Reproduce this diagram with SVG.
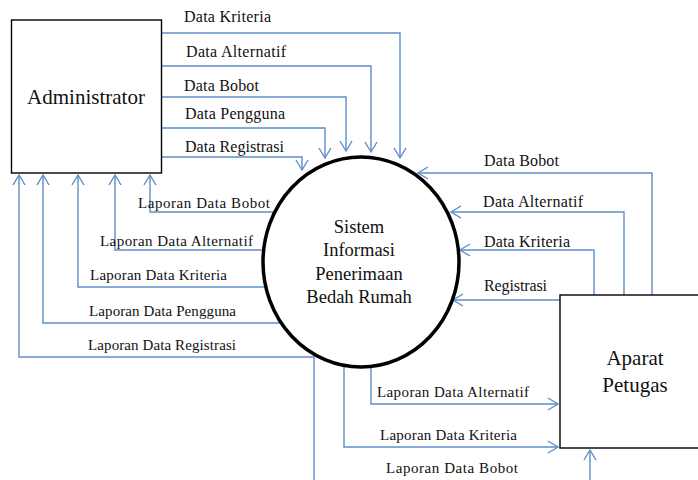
<svg xmlns="http://www.w3.org/2000/svg" width="698" height="480" viewBox="0 0 698 480">
<defs>
<marker id="ah" markerUnits="userSpaceOnUse" markerWidth="14" markerHeight="16" refX="0" refY="0" viewBox="-12 -8 14 16" orient="auto">
<path d="M-10,-6 L0,0 L-10,6" fill="none" stroke="#5f8dc8" stroke-width="1.4"/>
</marker>
<style>
.c{fill:none;stroke:#5f8dc8;stroke-width:1.4;marker-end:url(#ah)}
.t{font-family:"Liberation Serif","Times New Roman",serif;fill:#111}
.l16{font-size:16px}
.l15{font-size:15px}
.box{fill:#fff;stroke:#000;stroke-width:1.4}
</style>
</defs>
<rect width="698" height="480" fill="#fff"/>
<g id="connectors">
<path class="c" d="M161,33 H400 V158"/>
<path class="c" d="M161,66 H371 V152"/>
<path class="c" d="M161,97 H346 V151"/>
<path class="c" d="M161,128 H325 V158"/>
<path class="c" d="M161,157 H302 V170"/>
<path class="c" d="M275,212 H150 V175"/>
<path class="c" d="M264,250 H115 V175"/>
<path class="c" d="M266,287 H78 V175"/>
<path class="c" d="M281,323 H43 V175"/>
<path class="c" d="M314,482 V357 H19 V175"/>
<path class="c" d="M652,295 V173 H418"/>
<path class="c" d="M624,295 V212 H451"/>
<path class="c" d="M594,295 V250 H460"/>
<path class="c" d="M560,300 H453"/>
<path class="c" d="M371,366 V404 H558"/>
<path class="c" d="M344,365 V447 H558"/>
<path class="c" d="M590,482 V450"/>
<text class="t l16" x="184" y="22" textLength="87" lengthAdjust="spacing">Data Kriteria</text>
<text class="t l16" x="186" y="57" textLength="100" lengthAdjust="spacing">Data Alternatif</text>
<text class="t l16" x="184" y="91" textLength="75" lengthAdjust="spacing">Data Bobot</text>
<text class="t l16" x="185" y="119" textLength="100" lengthAdjust="spacing">Data Pengguna</text>
<text class="t l16" x="185" y="152" textLength="99" lengthAdjust="spacing">Data Registrasi</text>
<text class="t l15" x="138" y="208" textLength="132" lengthAdjust="spacing">Laporan Data Bobot</text>
<text class="t l15" x="100" y="246" textLength="153" lengthAdjust="spacing">Laporan Data Alternatif</text>
<text class="t l15" x="90" y="280" textLength="137" lengthAdjust="spacing">Laporan Data Kriteria</text>
<text class="t l15" x="89" y="316" textLength="147" lengthAdjust="spacing">Laporan Data Pengguna</text>
<text class="t l15" x="88" y="350" textLength="148" lengthAdjust="spacing">Laporan Data Registrasi</text>
<text class="t l16" x="484" y="166" textLength="75" lengthAdjust="spacing">Data Bobot</text>
<text class="t l16" x="483" y="207" textLength="100" lengthAdjust="spacing">Data Alternatif</text>
<text class="t l16" x="484" y="247" textLength="86" lengthAdjust="spacing">Data Kriteria</text>
<text class="t l16" x="484" y="291" textLength="63" lengthAdjust="spacing">Registrasi</text>
<text class="t l15" x="377" y="397" textLength="152" lengthAdjust="spacing">Laporan Data Alternatif</text>
<text class="t l15" x="380" y="440" textLength="137" lengthAdjust="spacing">Laporan Data Kriteria</text>
<text class="t l15" x="386" y="473" textLength="132" lengthAdjust="spacing">Laporan Data Bobot</text>
</g>
<g id="administrator">
<rect class="box" x="11.5" y="20" width="150" height="153"/>
<text class="t" x="86" y="104" font-size="21" text-anchor="middle">Administrator</text>
</g>
<g id="sistem">
<ellipse cx="361" cy="262" rx="98" ry="105" fill="#fff" stroke="#000" stroke-width="3.5"/>
<text class="t" font-size="18.5" text-anchor="middle"><tspan x="359" y="233">Sistem</tspan><tspan x="359" y="256">Informasi</tspan><tspan x="359" y="280">Penerimaan</tspan><tspan x="359" y="303">Bedah Rumah</tspan></text>
</g>
<g id="aparat">
<rect class="box" x="560" y="295" width="150" height="153"/>
<text class="t" font-size="21" text-anchor="middle"><tspan x="635" y="365">Aparat</tspan><tspan x="635" y="392">Petugas</tspan></text>
</g>
</svg>
